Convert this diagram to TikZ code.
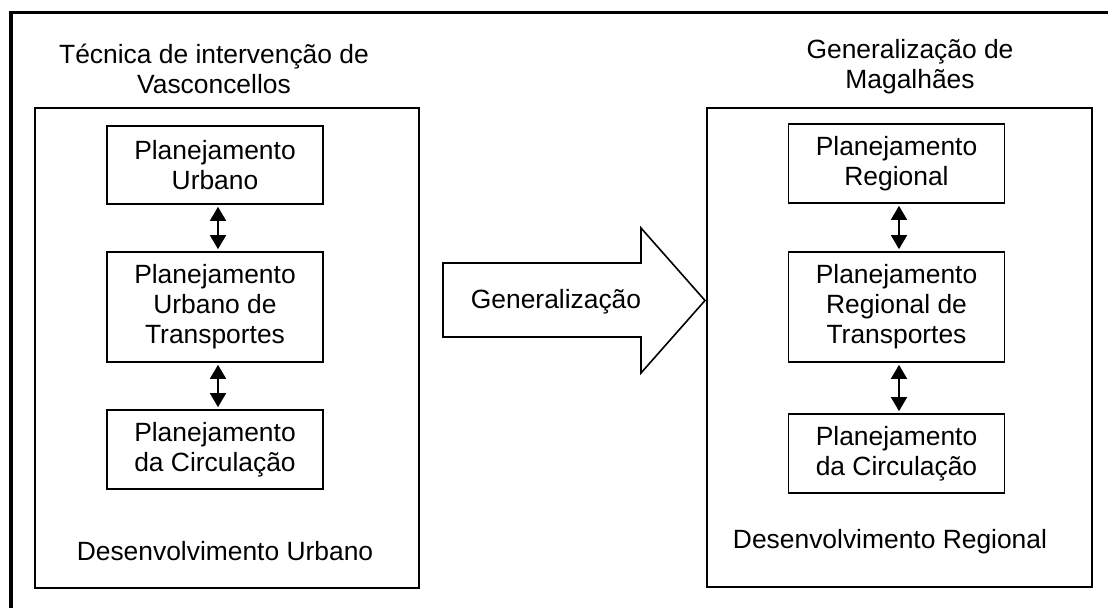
\documentclass[tikz,border=0pt]{standalone}
\usepackage{fontspec}
\setmainfont{Liberation Sans}
\usepackage{tikz}
\usetikzlibrary{calc}
\usetikzlibrary{arrows.meta}
\usetikzlibrary{positioning}
\tikzset{>={Triangle[length=7pt, width=8pt]}}
\tikzstyle{txt} = [draw=none, inner sep = 0, font=\fontsize{13.2}{15}\selectfont, align=center]
\tikzstyle{plan} = [txt, draw=black, line width=0.85pt, minimum width=108pt]
\tikzstyle{area} = [draw=black, line width=0.8pt, inner sep = 0]
\tikzstyle{link} = [<->, line width=0.85pt, shorten <= 1pt, shorten >= 1pt]

\begin{document}
\begin{tikzpicture}[x=0.5pt, y=-0.5pt]
\useasboundingbox (0, 0) rectangle (1108, 608);
\draw [line width=1.8pt] (11, 640) |- (1140, 12.5);
% left side
\node [area, minimum width=192pt, minimum height=240pt] (urb) at (227, 348) {};
\node [txt, anchor=base] (T1) at (214, 94) {Técnica de intervenção de\\Vasconcellos};
\node [plan, minimum height=39pt] (U1) at (215, 165) {Planejamento\\Urbano};
\node [plan, minimum height=55pt] (U2) at (215, 307) {Planejamento\\Urbano de\\Transportes};
\node [plan, minimum height=39.5pt] (U3) at (215, 449.5) {Planejamento\\da Circulação};
\node [txt, anchor=base] (D1) at (225, 560) {Desenvolvimento Urbano};
\draw [link] ([xshift=1.5pt]U1.south) to ([xshift=1.5pt]U2.north);
\draw [link] ([xshift=1.5pt]U2.south) to ([xshift=1.5pt]U3.north);
% big arrow
\draw [line width=0.8pt] (443, 263) -- (641, 263) -- (641, 228) -- (705, 300.5) -- (641, 373) -- (641, 337) -- (443, 337) -- cycle;
\node [txt, anchor=base] (G) at (556, 309) {Generalização};
% right side
\node [area, minimum width=192.5pt, minimum height=239.5pt] (reg) at (899.5, 347.5) {};
\node [txt, anchor=base] (T2) at (910, 89) {Generalização de\\Magalhães};
\node [plan, minimum height=39.5pt] (R1) at (896.5, 163.5) {Planejamento\\Regional};
\node [plan, minimum height=55pt] (R2) at (896.5, 307) {Planejamento\\Regional de\\Transportes};
\node [plan, minimum height=39.5pt] (R3) at (896.5, 453.5) {Planejamento\\da Circulação};
\node [txt, anchor=base] (D2) at (890, 549) {Desenvolvimento Regional};
\draw [link] ([xshift=1.25pt]R1.south) to ([xshift=1.25pt]R2.north);
\draw [link] ([xshift=1.25pt]R2.south) to ([xshift=1.25pt]R3.north);
\end{tikzpicture}
\end{document}
